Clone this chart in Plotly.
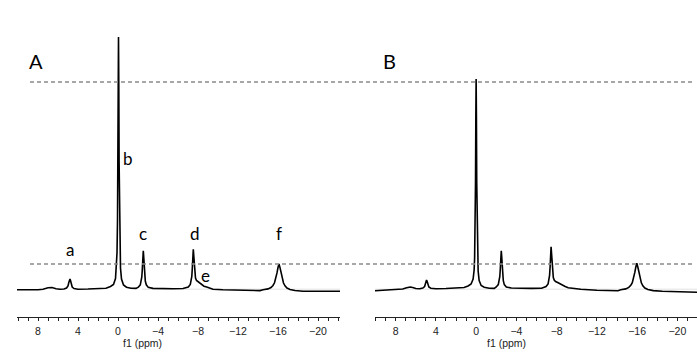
import plotly.graph_objects as go

# ---------------- data ----------------
# Panel A spectrum: chemical shift (ppm) and intensity (arbitrary units)
ppm_A = [10.1, 9.0, 8.0, 7.5, 7.0, 6.6, 6.2, 5.8, 5.4, 5.15, 5.0, 4.92, 4.85, 4.8, 4.75, 4.68, 4.58, 4.4, 4.0,
         3.0, 2.0, 1.2, 0.75, 0.45, 0.25, 0.15, 0.10, 0.05, 0.01, -0.02, -0.05, -0.08, -0.11, -0.15, -0.20,
         -0.25, -0.35, -0.55, -0.85, -1.3, -1.8,
         -2.03, -2.23, -2.33, -2.38, -2.43, -2.48, -2.53, -2.58, -2.63, -2.68, -2.73, -2.83, -3.03, -3.5,
         -4.5, -5.5, -6.5,
         -7.03, -7.23, -7.33, -7.38, -7.43, -7.48, -7.53, -7.58, -7.63, -7.68, -7.75, -7.85, -8.0, -8.15,
         -8.37, -8.6, -8.87, -9.2, -9.5, -10.5, -12.0, -13.2, -14.2,
         -14.5, -15.0, -15.3, -15.5, -15.65, -15.8, -15.9, -16.0, -16.1, -16.2, -16.3, -16.4, -16.55,
         -16.7, -16.9, -17.2, -17.7, -18.5, -20.0, -22.2]
int_A = [0.2, 0.0, 0.3, 0.8, 2.2, 2.5, 1.2, 0.8, 1.0, 2.0, 4.0, 7.5, 10.0, 11.0, 9.5, 6.0, 3.0, 1.5, 0.8,
         1.0, 1.2, 1.8, 3.5, 5.5, 11.5, 23, 37, 69, 128, 204, 253, 204, 128, 69, 36,
         22, 11, 5, 2.8, 1.8, 1.6,
         2.8, 5.2, 9, 13, 20.5, 32, 39.3, 32, 20.5, 13, 9, 5.2, 2.6, 1.6,
         1.2, 1.2, 1.5,
         3.0, 5.5, 9.5, 13.5, 21.5, 33.5, 40.7, 34, 23, 16, 12, 9.5, 8.3, 7.0,
         5.0, 3.8, 3.0, 1.8, 0.7, 0.2, -0.3, -0.7, -0.6,
         0.2, 1.1, 2.5, 4.5, 7.2, 12.1, 17.1, 22.5, 26, 22.4, 17, 12, 7,
         4.1, 2.0, 0.5, -0.5, -1.2, -1.5, -1.3]

# Panel B spectrum
ppm_B = [10.05, 9.0, 8.0, 7.3, 6.9, 6.55, 6.3, 6.0, 5.6, 5.3, 5.12, 5.03, 4.97, 4.93, 4.88, 4.8, 4.7, 4.5, 4.0,
         3.0, 2.0, 1.2, 0.8, 0.5, 0.3, 0.2, 0.15, 0.10, 0.06, 0.03, 0.0, -0.03, -0.06, -0.10, -0.15,
         -0.20, -0.30, -0.50, -0.80, -1.3, -1.8,
         -2.0, -2.2, -2.3, -2.35, -2.4, -2.45, -2.5, -2.55, -2.6, -2.65, -2.7, -2.8, -3.0, -3.5,
         -4.5, -5.5, -6.5,
         -6.95, -7.15, -7.25, -7.3, -7.35, -7.4, -7.45, -7.5, -7.55, -7.6, -7.67, -7.77, -7.9, -8.15,
         -8.5, -8.85, -9.15, -10.4, -12.0, -13.4, -14.1,
         -14.37, -14.87, -15.17, -15.37, -15.52, -15.67, -15.77, -15.87, -15.97, -16.07, -16.17, -16.27,
         -16.42, -16.57, -16.77, -17.07, -17.6, -18.5, -20.0, -21.95]
int_B = [-0.7, -0.3, 0.3, 1.0, 2.2, 3.0, 2.5, 1.5, 1.3, 2.0, 3.5, 6.5, 9, 10, 9, 5.5, 3.0, 1.8, 1.3,
         1.5, 2.0, 2.5, 4.0, 6.0, 11, 20, 32, 59, 108, 171, 211, 171, 108, 58, 31,
         19, 9.5, 4.5, 2.8, 1.8, 1.6,
         3.0, 5.4, 9.3, 13.3, 20.8, 32.3, 39.3, 32.3, 20.8, 13.3, 9.3, 5.4, 3.0, 2.0,
         1.6, 1.6, 1.8,
         3.4, 6.0, 10.2, 14.7, 23, 35.5, 43.3, 36, 24.5, 17, 12.5, 9.8, 8.5, 7.3,
         5.0, 3.5, 2.3, 0.7, -0.3, -1.0, -0.7,
         0.2, 1.1, 2.6, 4.7, 7.4, 12.4, 17.6, 23, 26.7, 23, 17.5, 12.3,
         7.2, 4.2, 2.0, 0.5, -0.6, -1.3, -1.8, -2.3]

# Peak labels in panel A (text, ppm, intensity)
peak_text = ["a", "b", "c", "d", "e", "f"]
peak_ppm = [4.8, -1.0, -2.5, -7.7, -8.7, -16.1]
peak_int = [41, 132, 57, 57, 15, 57]

panel_text = ["A", "B"]
panel_ppm = [8.2, 8.6]
panel_int = [229, 229]

# Horizontal reference (dashed) levels
ref_levels = [208, 26]

tick_vals = [8, 4, 0, -4, -8, -12, -16, -20]
x_title = "f1 (ppm)"
title_ppm = [-2.4, -3.0]

# ---------------- figure ----------------
W, H = 697, 358
fig = go.Figure()
fig.add_trace(go.Scatter(x=ppm_A, y=int_A, mode="lines", line=dict(color="black", width=1.6),
                         xaxis="x", yaxis="y", showlegend=False, hoverinfo="skip"))
fig.add_trace(go.Scatter(x=ppm_B, y=int_B, mode="lines", line=dict(color="black", width=1.6),
                         xaxis="x2", yaxis="y2", showlegend=False, hoverinfo="skip"))

xcommon = dict(showgrid=False, zeroline=False, showline=True, linecolor="#222", linewidth=1,
               ticks="outside", ticklen=3, tickwidth=1, tickcolor="#222",
               tickvals=tick_vals, ticktext=[("\u2212" + str(-v)) if v < 0 else str(v) for v in tick_vals],
               tickfont=dict(family="Liberation Sans, Arial, sans-serif", size=10.5, color="#222"),
               minor=dict(dtick=1, tick0=0, ticks="outside", ticklen=3, tickcolor="#222"),
               ticklabelstandoff=1)
ycommon = dict(visible=False, range=[-27, 290], showgrid=False, zeroline=False)

fig.update_layout(
    width=W, height=H,
    margin=dict(l=0, r=0, t=0, b=41),
    paper_bgcolor="white", plot_bgcolor="white",
    xaxis=dict(domain=[17 / W, 340 / W], range=[10.1, -22.2], anchor="y", **xcommon),
    xaxis2=dict(domain=[375 / W, 1.0], range=[10.05, -21.95], anchor="y2", **xcommon),
    yaxis=dict(anchor="x", **ycommon),
    yaxis2=dict(anchor="x2", **ycommon),
)

# faint baseline guides
fig.add_shape(type="line", xref="x", yref="y", x0=-2.4, x1=-22.2, y0=0.8, y1=0.8,
              line=dict(color="#e2e2e2", width=1), layer="below")
fig.add_shape(type="line", xref="x2", yref="y2", x0=10.05, x1=-21.95, y0=0.8, y1=0.8,
              line=dict(color="#e2e2e2", width=1), layer="below")

for lv in ref_levels:
    fig.add_shape(type="line", xref="paper", yref="y", x0=30 / W, x1=693 / W, y0=lv, y1=lv,
                  line=dict(color="#8a8a8a", width=1.3, dash="4px,3px"))

lab_font = dict(family="Lato, Open Sans, sans-serif", size=17, color="black")
for t, xp, yi in zip(peak_text, peak_ppm, peak_int):
    fig.add_annotation(x=xp, y=yi, xref="x", yref="y", text=t, showarrow=False, font=lab_font,
                       xanchor="center", yanchor="middle")

axes = [("x", "y"), ("x2", "y2")]
for (xr, yr), t, xp, yi in zip(axes, panel_text, panel_ppm, panel_int):
    fig.add_annotation(x=xp, y=yi, xref=xr, yref=yr, text=t, showarrow=False,
                       font=dict(family="Lato, Open Sans, sans-serif", size=20, color="black"),
                       xanchor="center", yanchor="middle")

for (xr, yr), xp in zip(axes, title_ppm):
    fig.add_annotation(x=xp, y=-26 / 317, xref=xr, yref="paper", text=x_title, showarrow=False,
                       font=dict(family="Liberation Sans, Arial, sans-serif", size=10.5, color="#222"),
                       xanchor="center", yanchor="middle")

fig.write_html("out.html", config={"displayModeBar": False},
               post_script="document.body.style.margin='0';")
